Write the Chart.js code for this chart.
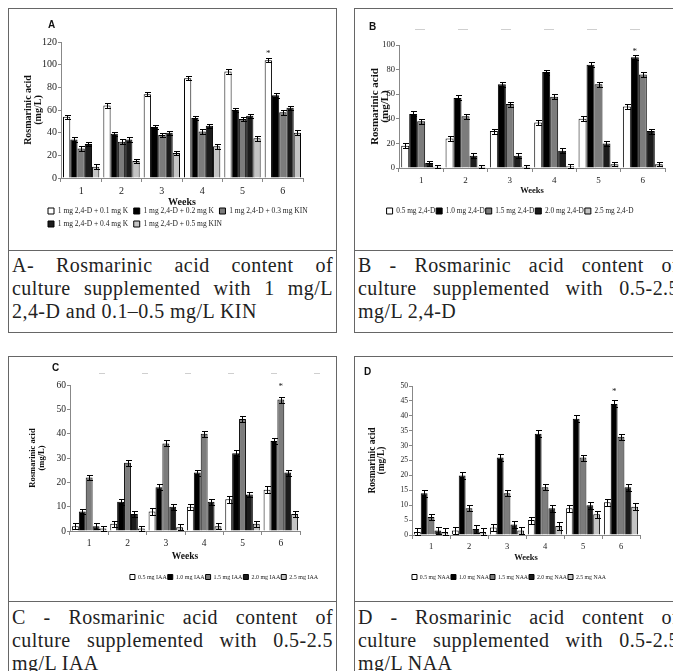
<!DOCTYPE html>
<html>
<head>
<meta charset="utf-8">
<script src="https://cdn.jsdelivr.net/npm/chart.js@4.4.1/dist/chart.umd.min.js"></script>
<style>
  html, body { margin: 0; padding: 0; background: #fff; overflow: hidden; }
  body { width: 673px; height: 671px; position: relative; }
  .panel { position: absolute; border: 1px solid #666; box-sizing: border-box; }
  .rule { position: absolute; height: 0; border-top: 1px solid #666; }
  canvas { position: absolute; }
  .tag { position: absolute; font: bold 10px 'Liberation Sans', Arial, sans-serif; color: #111; }
  .caption { position: absolute; width: 321px; font-family: 'Liberation Serif', serif; font-size: 20px; letter-spacing: 0.45px; color: #222; }
  .caption div { line-height: 23px; text-align: justify; text-align-last: justify; }
  .caption div.last { text-align-last: left; }
</style>
</head>
<body>
<div class="panel" style="left:8px;top:8px;width:329px;height:325px"></div>
<div class="panel" style="left:354px;top:8px;width:329px;height:325px"></div>
<div class="panel" style="left:8px;top:356px;width:329px;height:330px"></div>
<div class="panel" style="left:354px;top:356px;width:329px;height:330px"></div>
<div class="rule" style="left:8px;top:250px;width:329px"></div>
<div class="rule" style="left:354px;top:250px;width:329px"></div>
<div class="rule" style="left:8px;top:601px;width:329px"></div>
<div class="rule" style="left:354px;top:601px;width:329px"></div>

<canvas id="chartA" width="326" height="240" style="left:9px;top:9px"></canvas>
<canvas id="chartB" width="326" height="240" style="left:355px;top:9px"></canvas>
<canvas id="chartC" width="326" height="240" style="left:9px;top:357px"></canvas>
<canvas id="chartD" width="326" height="240" style="left:355px;top:357px"></canvas>

<span class="tag" style="left:48px;top:19px">A</span>
<span class="tag" style="left:369px;top:21px">B</span>
<span class="tag" style="left:52px;top:362px">C</span>
<span class="tag" style="left:364px;top:366px">D</span>

<div class="caption" style="left:12px;top:254px">
  <div>A- Rosmarinic acid content of</div>
  <div>culture supplemented with 1 mg/L</div>
  <div class="last">2,4-D and 0.1–0.5 mg/L KIN</div>
</div>
<div class="caption" style="left:358px;top:254px">
  <div>B - Rosmarinic acid content of</div>
  <div>culture supplemented with 0.5-2.5</div>
  <div class="last">mg/L 2,4-D</div>
</div>
<div class="caption" style="left:12px;top:606px">
  <div>C - Rosmarinic acid content of</div>
  <div>culture supplemented with 0.5-2.5</div>
  <div class="last">mg/L IAA</div>
</div>
<div class="caption" style="left:358px;top:606px">
  <div>D - Rosmarinic acid content of</div>
  <div>culture supplemented with 0.5-2.5</div>
  <div class="last">mg/L NAA</div>
</div>

<script>
// Data
const weeks = ['1', '2', '3', '4', '5', '6'];

// A - 1 mg/L 2,4-D with 0.1-0.5 mg/L KIN
const legendA = ['1 mg 2,4-D + 0.1 mg K', '1 mg 2,4-D + 0.2 mg K', '1 mg 2,4-D + 0.3 mg KIN', '1 mg 2,4-D + 0.4 mg K', '1 mg 2,4-D + 0.5 mg KIN'];
const valuesA = [
    [54, 64, 74, 88, 94, 104],
    [34, 39, 45, 53, 60, 73],
    [26, 32, 38, 41, 52, 58],
    [30, 34, 40, 46, 55, 62],
    [10, 15, 22, 28, 35, 40]
];
const errorsA = [1.8, 2, 2, 1.8, 2];

// B - 0.5-2.5 mg/L 2,4-D
const legendB = ['0.5 mg 2,4-D', '1.0 mg 2,4-D', '1.5 mg 2,4-D', '2.0 mg 2,4-D', '2.5 mg 2,4-D'];
const valuesB = [
    [18, 24, 30, 37, 40, 50],
    [44, 57, 68, 78, 84, 90],
    [38, 42, 52, 58, 68, 76],
    [4, 10, 10, 14, 20, 30],
    [1, 1, 1, 1.5, 3, 3]
];
const errorsB = [2, 2, 2, 2, 1.5];

// C - 0.5-2.5 mg/L IAA
const legendC = ['0.5 mg IAA', '1.0 mg IAA', '1.5 mg IAA', '2.0 mg IAA', '2.5 mg IAA'];
const valuesC = [
    [2, 3, 8, 10, 13, 17],
    [8, 12, 18, 24, 32, 37],
    [22, 28, 36, 40, 46, 54],
    [2, 7, 10, 12, 15, 24],
    [1, 1, 1.5, 2, 3, 7]
];
const errorsC = [1.3, 1.2, 1.2, 1.2, 1.2];

// D - 0.5-2.5 mg/L NAA
const legendD = ['0.5 mg NAA', '1.0 mg NAA', '1.5 mg NAA', '2.0 mg NAA', '2.5 mg NAA'];
const valuesD = [
    [1, 1.5, 2.5, 5, 9, 11],
    [14, 20, 26, 34, 39, 44],
    [6, 9, 14, 16, 26, 33],
    [1.5, 2, 3.5, 9, 10, 16],
    [1, 1, 1.5, 3, 7, 9.5]
];
const errorsD = [1.2, 1.2, 1, 1.2, 1.2];

const fills = ['#ffffff', '#000000', '#7c7c7c', '#1c1c1c', '#c4c4c4'];
const serif = "'Liberation Serif', 'Times New Roman', serif";

Chart.defaults.animation = false;
Chart.defaults.color = '#222';

// error bars plus the significance star
const errorBars = {
    id: 'errorBars',
    afterDatasetsDraw(chart, args, o) {
        const ctx = chart.ctx;
        const y = chart.scales.y;
        ctx.save();
        ctx.strokeStyle = '#000';
        ctx.lineWidth = 1;
        chart.data.datasets.forEach((ds, i) => {
            chart.getDatasetMeta(i).data.forEach((bar, j) => {
                const v = ds.data[j];
                const e = o.errors[i];
                const x = Math.round(bar.x) + 0.5;
                const yt = Math.round(y.getPixelForValue(v + e)) + 0.5;
                const yb = Math.round(y.getPixelForValue(Math.max(v - e, 0))) + 0.5;
                ctx.beginPath();
                ctx.moveTo(x, yt); ctx.lineTo(x, yb);
                ctx.moveTo(x - o.cap, yt); ctx.lineTo(x + o.cap + 1, yt);
                ctx.moveTo(x - o.cap, yb); ctx.lineTo(x + o.cap + 1, yb);
                ctx.stroke();
            });
        });
        if (o.star) {
            const s = o.star;
            const bar = chart.getDatasetMeta(s.series).data[s.index];
            const v = chart.data.datasets[s.series].data[s.index] + o.errors[s.series];
            ctx.fillStyle = '#222';
            ctx.font = '9px ' + serif;
            ctx.textAlign = 'center';
            ctx.textBaseline = 'middle';
            ctx.fillText('*', bar.x, y.getPixelForValue(v) - s.gap);
        }
        ctx.restore();
    }
};

// move the legend to where the original figure has it
const legendPlace = {
    id: 'legendPlace',
    afterLayout(chart, args, o) {
        const lg = chart.legend;
        if (!lg || o.y == null) return;
        const h = lg.bottom - lg.top;
        const w = lg.right - lg.left;
        lg.top = o.y - o.pad - o.itemH / 2;
        lg.bottom = lg.top + h;
        lg.left = o.align === 'start' ? o.x - o.pad : o.x - w / 2;
        lg.right = lg.left + w;
    }
};

// faint dashes left on top of the scanned panels
const faintRule = {
    id: 'faintRule',
    beforeDraw(chart, args, o) {
        if (!o.y) return;
        const ctx = chart.ctx;
        ctx.save();
        ctx.strokeStyle = '#cfcfcf';
        ctx.lineWidth = 1;
        ctx.setLineDash(o.dash);
        ctx.beginPath();
        ctx.moveTo(o.x0, o.y + 0.5);
        ctx.lineTo(o.x1, o.y + 0.5);
        ctx.stroke();
        ctx.restore();
    }
};

function makeChart(id, legend, values, errors, yMax, yStep, g) {
    const titleLH = g.titleLH;
    const pl = g.titleX - g.cx - titleLH / 2;
    const yw = g.plotL - g.cx - pl;
    const pt = g.plotT - g.cy;
    const pr = 2;
    const rightGap = g.cx + g.W - g.plotR - pr;
    const xh = g.weeksY - g.plotB + g.weeksSize * 0.6;
    const itemH = g.legendSize;
    const legendH = g.rows * (itemH + g.legendPad) + 10;
    const pb = Math.max(0, g.H - (g.plotB - g.cy) - xh - legendH);

    const datasets = values.map((v, i) => ({
        label: legend[i],
        data: v,
        backgroundColor: fills[i],
        borderColor: '#000',
        borderWidth: 1,
        barPercentage: 1,
        categoryPercentage: 0.9
    }));

    return new Chart(document.getElementById(id), {
        type: 'bar',
        data: { labels: weeks, datasets: datasets },
        options: {
            responsive: false,
            devicePixelRatio: 1,
            layout: { padding: { left: pl, right: pr, top: pt, bottom: pb } },
            plugins: {
                tooltip: { enabled: false },
                legend: {
                    position: 'bottom',
                    align: g.legendAlign,
                    labels: {
                        boxWidth: g.legendBox,
                        boxHeight: g.legendBox,
                        padding: g.legendPad,
                        color: '#222',
                        font: { family: serif, size: g.legendSize }
                    }
                },
                legendPlace: { x: g.legendX - g.cx, y: g.legendY - g.cy, pad: g.legendPad, itemH: itemH, align: g.legendAlign },
                errorBars: { errors: errors, cap: 2.5, star: g.star },
                faintRule: g.rule || {}
            },
            scales: {
                x: {
                    afterFit: s => { s.height = xh; },
                    border: { color: '#888' },
                    grid: { display: true, offset: true, drawOnChartArea: false, tickLength: 4, color: '#888' },
                    ticks: { padding: 3, color: '#222', font: { family: serif, size: g.tickSize } },
                    title: {
                        display: true,
                        text: 'Weeks',
                        padding: 0,
                        color: '#111',
                        font: { family: serif, size: g.weeksSize, weight: 'bold', lineHeight: 1.2 }
                    }
                },
                y: {
                    min: 0,
                    max: yMax,
                    afterFit: s => { s.width = yw; },
                    border: { color: '#888' },
                    grid: { display: true, drawOnChartArea: false, tickLength: 3, color: '#888' },
                    ticks: { stepSize: yStep, padding: 1, color: '#222', font: { family: serif, size: g.yTickSize } },
                    title: {
                        display: true,
                        text: ['Rosmarinic acid', '(mg/L)'],
                        padding: 0,
                        color: '#111',
                        font: { family: serif, size: g.titleSize, weight: 'bold', lineHeight: titleLH + 'px' }
                    }
                },
                // empty strip on the right so the legend may be wider than the plot
                y2: {
                    type: 'linear',
                    position: 'right',
                    afterFit: s => { s.width = rightGap; },
                    border: { display: false },
                    grid: { display: false },
                    ticks: { display: false }
                }
            }
        },
        plugins: [errorBars, legendPlace, faintRule]
    });
}

makeChart('chartA', legendA, valuesA, errorsA, 120, 20, {
    cx: 9, cy: 9, W: 326, H: 240,
    plotL: 61, plotR: 303, plotT: 42, plotB: 178,
    titleX: 28, titleLH: 10.5, titleSize: 10,
    tickSize: 10, yTickSize: 10, weeksY: 202, weeksSize: 10,
    legendSize: 7.5, legendBox: 6, legendPad: 5.5, rows: 2, legendY: 211, legendX: 48, legendAlign: 'start',
    star: { series: 0, index: 5, gap: 4 }
});

makeChart('chartB', legendB, valuesB, errorsB, 100, 10, {
    cx: 355, cy: 9, W: 326, H: 240,
    plotL: 399, plotR: 665, plotT: 45, plotB: 168,
    titleX: 375, titleLH: 10, titleSize: 11,
    tickSize: 9, yTickSize: 8.5, weeksY: 191, weeksSize: 8.5,
    legendSize: 7.3, legendBox: 6, legendPad: 1, rows: 1, legendY: 211, legendX: 510, legendAlign: 'center',
    star: { series: 1, index: 5, gap: 3 },
    rule: { x0: 60, x1: 290, y: 20, dash: [10, 33] }
});

makeChart('chartC', legendC, valuesC, errorsC, 60, 10, {
    cx: 9, cy: 357, W: 326, H: 240,
    plotL: 70, plotR: 300, plotT: 385, plotB: 531,
    titleX: 33, titleLH: 9, titleSize: 8.5,
    tickSize: 9.5, yTickSize: 9.5, weeksY: 557, weeksSize: 9.5,
    legendSize: 6, legendBox: 5, legendPad: 1, rows: 1, legendY: 577, legendX: 224, legendAlign: 'center',
    star: { series: 2, index: 5, gap: 10 },
    rule: { x0: 90, x1: 312, y: 16, dash: [6, 37] }
});

makeChart('chartD', legendD, valuesD, errorsD, 50, 5, {
    cx: 355, cy: 357, W: 326, H: 240,
    plotL: 412, plotR: 640, plotT: 386, plotB: 535,
    titleX: 373, titleLH: 9, titleSize: 9.5,
    tickSize: 8.5, yTickSize: 7.5, weeksY: 558, weeksSize: 8.5,
    legendSize: 5.8, legendBox: 5, legendPad: 1, rows: 1, legendY: 577, legendX: 509, legendAlign: 'center',
    star: { series: 1, index: 5, gap: 9 }
});
</script>
</body>
</html>
